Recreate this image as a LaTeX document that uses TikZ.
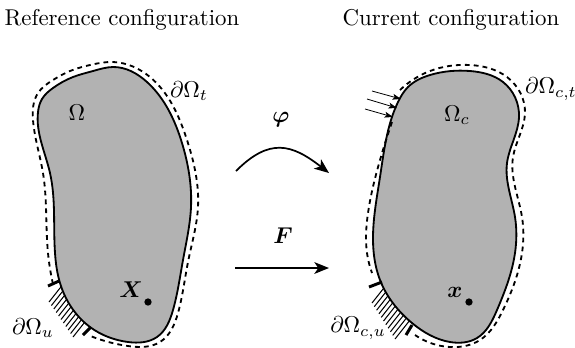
\documentclass[tikz,border=0pt]{standalone}
\usepackage{amsmath}
\usepackage{amssymb}
\usepackage{xcolor}
\usepackage{tikz}
\usetikzlibrary{arrows.meta, hobby}

\begin{document}
\begin{tikzpicture}[
    x=0.4375pt, y=-0.4375pt,
    use Hobby shortcut,
    body/.style={draw, line width=0.8pt, fill=black!30, closed=true},
    bound/.style={line width=0.8pt, dash pattern=on 2.1pt off 1.8pt},
    fixbar/.style={line width=1.3pt},
    hatchline/.style={line width=0.45pt},
    arrow/.style={-{Stealth[length=2.25mm, width=1.8mm, inset=0.6mm]}, line width=0.75pt},
    load/.style={-{Stealth[length=1.3mm, width=0.9mm, inset=0.3mm]}, line width=0.35pt},
    dot/.style={circle, fill=black, inner sep=0pt, minimum size=3.2pt}
]
\useasboundingbox (0,0) rectangle (575,347);

% reference configuration
\foreach \i in {0,...,10}
    \draw[hatchline] (49+2.4*\i,302+3.5*\i) -- ++(15,-19);
\draw[body] (38,112) .. (50,173) .. (55,253) .. (60,283) .. (90,327) .. (128,342) .. (157,337) .. (173,310)
    .. (183,260) .. (191,207) .. (182,143) .. (147,82) .. (113,67) .. (93,71) .. (73,77) .. (53,88) .. (42,99);
\draw[bound] (53,284) .. (48,253) .. (43,173) .. (33,120) .. (38,93) .. (53,80) .. (70,71) .. (90,65) .. (113,62) .. (150,77)
    .. (187,140) .. (198,207) .. (188,262) .. (178,313) .. (160,342) .. (128,346) .. (88,335);
\draw[fixbar] (48,286) -- (59,281);
\draw[fixbar] (83,335) -- (91,327);
\node (refTitle) at (122,20) {Reference configuration};
\node (refBody) at (77,113) {$\Omega$};
\node (refTrac) at (189,91) {$\partial\Omega_t$};
\node (refDisp) at (33,328) {$\partial\Omega_u$};
\node[dot] (refPoint) at (148,302) {};
\node (refPointLabel) at (131,290) {$\boldsymbol{X}$};

% current configuration
\foreach \i in {0,...,10}
    \draw[hatchline] (372+2.3*\i,303+3.6*\i) -- ++(15,-19);
\draw[body] (398,102) .. (380,177) .. (373,240) .. (380,280) .. (412,323) .. (450,342) .. (477,338) .. (497,310)
    .. (515,253) .. (515,217) .. (507,163) .. (519,117) .. (503,82) .. (470,71) .. (430,75) .. (408,87);
\draw[bound] (400,90) .. (430,71) .. (470,65) .. (507,77) .. (525,113) .. (513,157) .. (522,217) .. (522,253)
    .. (503,310) .. (480,340) .. (450,347) .. (415,335);
\draw[bound] (392,122) .. (380,160) .. (368,213) .. (367,253) .. (372,273);
\draw[fixbar] (369,287) -- (382,282);
\draw[fixbar] (406,335) -- (412,325);
\foreach \name/\lx/\ly/\ex/\ey in {a/372/91/401/99, b/367/99/397/108, c/365/109/393/117} {
    \coordinate (load\name s) at (\lx,\ly);
    \coordinate (load\name e) at (\ex,\ey);
    \draw[load] (load\name s) -- (load\name e);
}
\node (curTitle) at (451,20) {Current configuration};
\node (curBody) at (457,115) {$\Omega_c$};
\node (curTrac) at (551,89) {$\partial\Omega_{c,t}$};
\node (curDisp) at (358,328) {$\partial\Omega_{c,u}$};
\node[dot] (curPoint) at (469,302) {};
\node (curPointLabel) at (455,292) {$\boldsymbol{x}$};

% maps
\coordinate (mapStart) at (236,171);
\coordinate (mapEnd) at (329,173);
\coordinate (gradStart) at (235,268);
\coordinate (gradEnd) at (329,268);
\node (mapLabel) at (281,120) {$\boldsymbol{\varphi}$};
\node (gradLabel) at (283,236) {$\boldsymbol{F}$};
\draw[arrow] (mapStart) to[out=45, in=142, looseness=1.3] (mapEnd);
\draw[arrow] (gradStart) -- (gradEnd);
\end{tikzpicture}
\end{document}
